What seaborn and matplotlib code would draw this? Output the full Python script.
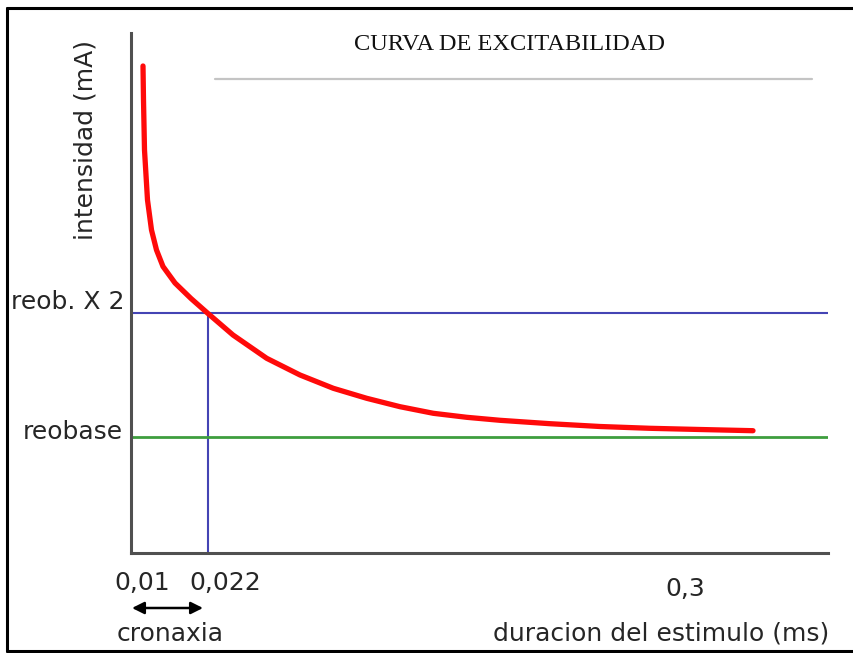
import matplotlib
matplotlib.use("Agg")
import matplotlib.pyplot as plt
from matplotlib.lines import Line2D
import seaborn as sns
import pandas as pd

# ---- data (schematic units) ----
curve_x = [12, 12.5, 13.5, 16.5, 20.5, 25.5, 32, 44, 60, 77, 102, 135.7,
           169, 202.3, 235.7, 269, 302.3, 335.7, 369, 419, 469, 519, 569, 622]
curve_y = [487, 453, 403, 353, 323, 303, 286.5, 270, 254.5, 239.5, 218, 194.7,
           178, 164.7, 154.7, 146.3, 139.7, 135.7, 132.7, 129.3, 126.5, 124.7,
           123.5, 122.3]
reobase = 116
reobase_x2 = 240
cronaxia_x = 77
tick_pos = [29, 558]
tick_labels = ["0,01", "0,3"]
cronaxia_label = "0,022"
x_max = 697
y_max = 520

W, H = 854, 653
sns.set_style("white")
plt.rcParams["font.family"] = ["DejaVu Sans"]

fig = plt.figure(figsize=(W / 100, H / 100), dpi=100)
ax = fig.add_axes([131 / W, (H - 553) / H, 697 / W, 520 / H])

df = pd.DataFrame({"x": curve_x, "y": curve_y})
# reference lines
ax.plot([0, x_max], [reobase_x2, reobase_x2], color="#4444b4", lw=1.5, zorder=2)
ax.plot([cronaxia_x, cronaxia_x], [0, reobase_x2], color="#4444b4", lw=1.5, zorder=2)
ax.plot([0, x_max], [reobase, reobase], color="#3e9e3e", lw=2.0, zorder=2)
sns.lineplot(data=df, x="x", y="y", ax=ax, color="#ff0a0a", lw=3.8,
             sort=False, estimator=None, zorder=3)
for ln in ax.get_lines():
    ln.set_solid_joinstyle("round")

ax.set_xlim(0, x_max)
ax.set_ylim(0, y_max)
ax.set_xlabel("")
ax.set_ylabel("")
ax.set_facecolor("none")
for s in ["top", "right"]:
    ax.spines[s].set_visible(False)
for s in ["left", "bottom"]:
    ax.spines[s].set_color("#505050")
    ax.spines[s].set_linewidth(2.2)
ax.set_yticks([])
ax.set_xticks(tick_pos)
ax.tick_params(axis="x", direction="inout", length=14, width=1.3,
               color="#505050", labelbottom=False)

fs = 18
tc = "#262626"
def ftext(x, y, s, **kw):
    fig.text(x / W, 1 - y / H, s, **kw)

# x tick labels
ftext(142, 583, tick_labels[0], ha="center", va="center", fontsize=fs, color=tc)
ftext(225, 583, cronaxia_label, ha="center", va="center", fontsize=fs, color=tc)
ftext(685, 589, tick_labels[1], ha="center", va="center", fontsize=fs, color=tc)
# y labels
ftext(125, 302, "reob. X 2", ha="right", va="center", fontsize=fs, color=tc)
ftext(123, 432, "reobase", ha="right", va="center", fontsize=fs, color=tc)
ftext(86, 140, "intensidad (mA)", ha="center", va="center", rotation=90,
      fontsize=fs, color=tc)
# bottom texts
ftext(170, 634, "cronaxia", ha="center", va="center", fontsize=fs, color=tc)
ftext(493, 633, "duracion del estimulo (ms)", ha="left", va="center",
      fontsize=fs, color=tc)
# title
ftext(510, 45, "CURVA DE EXCITABILIDAD", ha="center", va="center", fontsize=17.6,
      family="Liberation Serif", color="#111111")
# gray line under title
fig.add_artist(Line2D([215 / W, 812 / W], [1 - 79 / H, 1 - 79 / H],
                      color="#c4c4c4", lw=1.6))
# cronaxia arrow
ax.annotate("", xy=(132 / W, 1 - 608 / H), xytext=(203 / W, 1 - 608 / H),
            xycoords="figure fraction", textcoords="figure fraction",
            arrowprops=dict(arrowstyle="<|-|>", color="black", lw=1.8,
                            mutation_scale=18, shrinkA=0, shrinkB=0),
            annotation_clip=False)
# outer frame
fl = 2.2
fig.add_artist(Line2D([7 / W, 7 / W], [1 - 8 / H, 1 - 651 / H], color="black", lw=fl))
fig.add_artist(Line2D([7 / W, 1.0], [1 - 8 / H, 1 - 8 / H], color="black", lw=fl))
fig.add_artist(Line2D([7 / W, 1.0], [1 - 651 / H, 1 - 651 / H], color="black", lw=fl))

fig.savefig("out.png", dpi=100)
